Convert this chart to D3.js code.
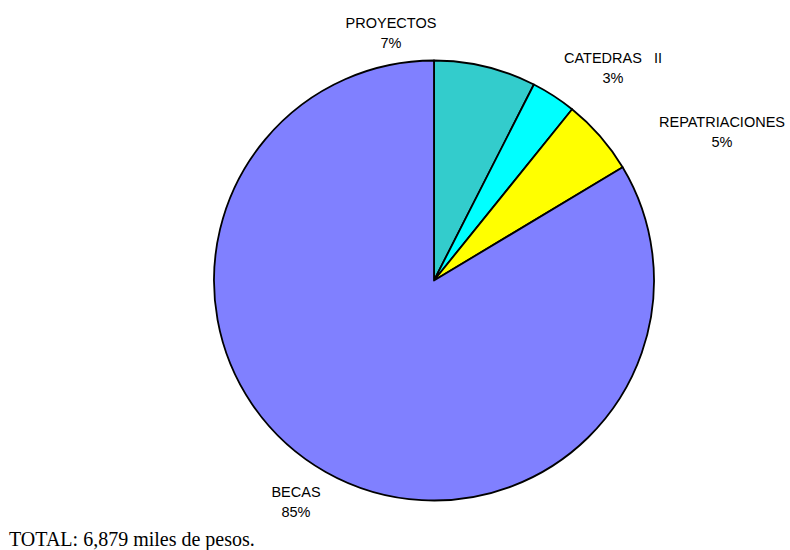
<!DOCTYPE html>
<html>
<head>
<meta charset="utf-8">
<script src="https://cdn.jsdelivr.net/npm/d3@7"></script>
<style>
  body { margin: 0; background: #fff; }
  .lbl { font-family: "Liberation Sans", Arial, sans-serif; font-size: 14.5px; fill: #000; white-space: pre; }
  .total { font-family: "Liberation Serif", "Times New Roman", serif; font-size: 20px; fill: #000; }
</style>
</head>
<body>
<script>
// slice names and amounts (miles de pesos), clockwise from 12 o'clock
var categories = ["PROYECTOS", "CATEDRAS   II", "REPATRIACIONES", "BECAS"];
var amounts = [516, 227, 385, 5751];
var percentLabels = ["7%", "3%", "5%", "85%"];
var colors = ["#33CCCC", "#00FFFF", "#FFFF00", "#8080FF"];
var totalText = "TOTAL: 6,879 miles de pesos.";

// where each label block is centred (first line baseline)
var labelAnchor = {
  "PROYECTOS": [391, 28],
  "CATEDRAS   II": [613, 63],
  "REPATRIACIONES": [722, 127],
  "BECAS": [296, 497]
};

var w = 790, h = 550;
var cx = 434, cy = 280.5, r = 220;

var svg = d3.select("body")
  .append("svg")
  .attr("width", w)
  .attr("height", h);

var pie = d3.pie().sort(null).value(function(d) { return d; });
var arc = d3.arc().innerRadius(0).outerRadius(r);

var g = svg.append("g")
  .attr("transform", "translate(" + cx + "," + cy + ")");

g.selectAll("path")
  .data(pie(amounts))
  .enter().append("path")
  .attr("d", arc)
  .attr("fill", function(d, i) { return colors[i]; })
  .attr("stroke", "#000")
  .attr("stroke-width", 1.8)
  .attr("stroke-linejoin", "round");

// labels
categories.forEach(function(name, i) {
  var p = labelAnchor[name];
  var t = svg.append("text")
    .attr("class", "lbl")
    .attr("text-anchor", "middle")
    .attr("x", p[0])
    .attr("y", p[1]);
  t.append("tspan").attr("x", p[0]).text(name);
  t.append("tspan").attr("x", p[0]).attr("dy", 20).text(percentLabels[i]);
});

svg.append("text")
  .attr("class", "total")
  .attr("x", 9)
  .attr("y", 546)
  .text(totalText);
</script>
</body>
</html>
